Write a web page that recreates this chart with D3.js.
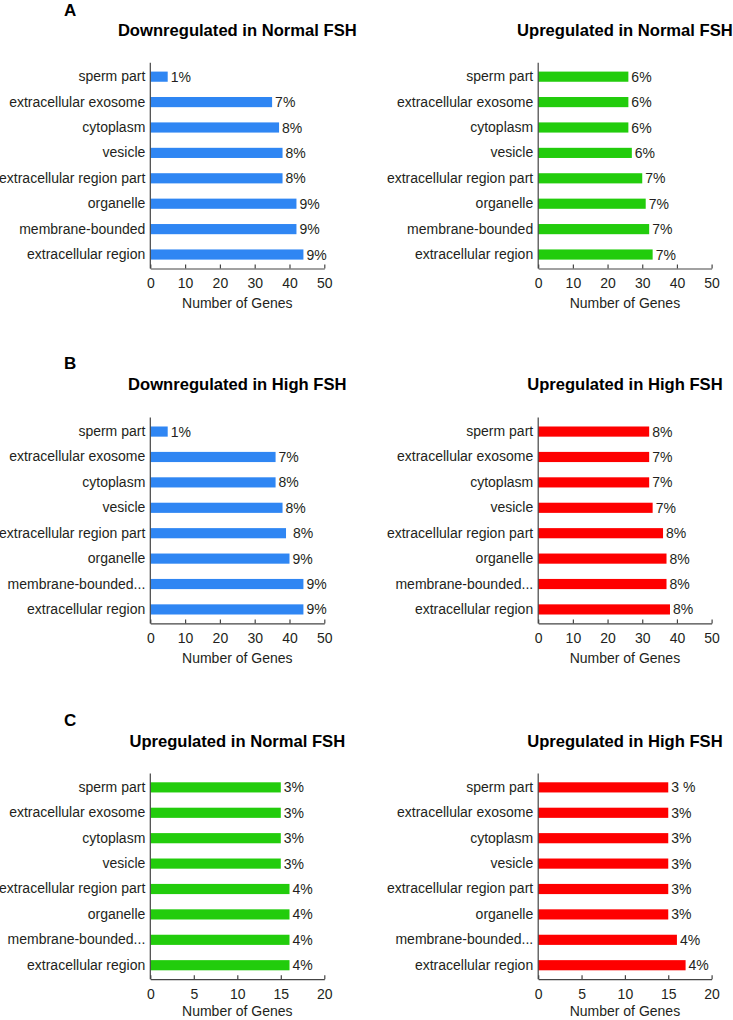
<!DOCTYPE html>
<html>
<head>
<meta charset="utf-8">
<script src="https://cdn.jsdelivr.net/npm/d3@7"></script>
<style>
  html, body { margin: 0; padding: 0; background: #fff; }
  svg { display: block; font-family: "Liberation Sans", Arial, sans-serif; }
  .val { white-space: pre; }
</style>
</head>
<body>
<svg id="chart" width="733" height="1020"></svg>
<script>
// ---------- data ----------
const categoriesA = ["sperm part", "extracellular exosome", "cytoplasm", "vesicle",
  "extracellular region part", "organelle", "membrane-bounded", "extracellular region"];
const categoriesBC = ["sperm part", "extracellular exosome", "cytoplasm", "vesicle",
  "extracellular region part", "organelle", "membrane-bounded...", "extracellular region"];

const panelLetters = ["A", "B", "C"];
const titlesLeft = ["Downregulated in Normal FSH", "Downregulated in High FSH", "Upregulated in Normal FSH"];
const titlesRight = ["Upregulated in Normal FSH", "Upregulated in High FSH", "Upregulated in High FSH"];
const axisTitle = "Number of Genes";

const ticks50 = [0, 10, 20, 30, 40, 50];
const ticks20 = [0, 5, 10, 15, 20];

const downNormalValues = [5, 35, 37, 38, 38, 42, 42, 44];
const downNormalLabels = ["1%", "7%", "8%", "8%", "8%", "9%", "9%", "9%"];
const upNormalValues = [26, 26, 26, 27, 30, 31, 32, 33];
const upNormalLabels = ["6%", "6%", "6%", "6%", "7%", "7%", "7%", "7%"];

const downHighValues = [5, 36, 36, 38, 39, 40, 44, 44];
const downHighLabels = ["1%", "7%", "8%", "8%", " 8%", "9%", "9%", "9%"];
const upHighValues = [32, 32, 32, 33, 36, 37, 37, 38];
const upHighLabels = ["8%", "7%", "7%", "7%", "8%", "8%", "8%", "8%"];

const upNormalCValues = [15, 15, 15, 15, 16, 16, 16, 16];
const upNormalCLabels = ["3%", "3%", "3%", "3%", "4%", "4%", "4%", "4%"];
const upHighCValues = [15, 15, 15, 15, 15, 15, 16, 17];
const upHighCLabels = ["3 %", "3%", "3%", "3%", "3%", "3%", "4%", "4%"];

const BLUE = "#2f86f3";
const GREEN = "#22cc0c";
const RED = "#fe0000";

// ---------- layout ----------
const svg = d3.select("#chart");
const W = 733, H = 1020;
const leftX = [150.3, 324.3];
const rightX = [538.2, 711.6];
const panelTops = [62.7, 417.6, 773.4];
const plotH = 205.8;
const letterBaselines = [15.6, 369.4, 726];
const titleBaselines = [36, 390, 746.7];
const textColor = "#231f20";
const axisColor = "#444";

function drawChart(opt) {
  const g = svg.append("g");
  const x = d3.scaleLinear().domain([0, opt.max]).range(opt.xr);
  const top = opt.top, bottom = opt.top + plotH;
  const y = d3.scaleBand().domain(opt.cats).range([top, bottom])
    .paddingInner(0.6).paddingOuter(0.35).align(0.5);

  // title
  g.append("text")
    .attr("x", (opt.xr[0] + opt.xr[1]) / 2)
    .attr("y", opt.titleY)
    .attr("text-anchor", "middle")
    .attr("font-size", 16.6)
    .attr("font-weight", "bold")
    .attr("fill", "#000")
    .text(opt.title);

  // bars
  g.selectAll("rect.bar").data(opt.values).join("rect")
    .attr("class", "bar")
    .attr("x", x(0))
    .attr("y", (d, i) => y(opt.cats[i]))
    .attr("width", d => x(d) - x(0))
    .attr("height", y.bandwidth())
    .attr("fill", opt.color);

  // value labels
  g.selectAll("text.val").data(opt.values).join("text")
    .attr("class", "val")
    .attr("x", d => x(d) + 3)
    .attr("y", (d, i) => y(opt.cats[i]) + y.bandwidth() / 2)
    .attr("dy", "0.36em")
    .attr("font-size", 14)
    .attr("fill", textColor)
    .text((d, i) => opt.labels[i]);

  // y axis (category labels)
  const ya = g.append("g")
    .attr("transform", `translate(${x(0)},0)`)
    .call(d3.axisLeft(y).tickSize(0).tickPadding(5));
  ya.select(".domain").remove();
  ya.selectAll("text").attr("font-size", 14).attr("fill", textColor).attr("font-family", null);

  g.append("line")
    .attr("x1", x(0)).attr("x2", x(0))
    .attr("y1", top).attr("y2", bottom)
    .attr("stroke", axisColor).attr("stroke-width", 1.2);

  // x axis
  const xa = g.append("g")
    .attr("transform", `translate(0,${bottom})`)
    .call(d3.axisBottom(x).tickValues(opt.ticks).tickSizeInner(-4).tickSizeOuter(0).tickPadding(10));
  xa.select(".domain").attr("stroke", axisColor).attr("stroke-width", 1.2);
  xa.selectAll(".tick line").attr("stroke", axisColor).attr("stroke-width", 1.2);
  xa.selectAll("text").attr("font-size", 14).attr("fill", textColor).attr("font-family", null);

  // axis title (kept inside the page)
  g.append("text")
    .attr("x", (opt.xr[0] + opt.xr[1]) / 2)
    .attr("y", Math.min(bottom + 39.5, H - 4.5))
    .attr("text-anchor", "middle")
    .attr("font-size", 14)
    .attr("fill", textColor)
    .text(axisTitle);
}

// panel letters
panelLetters.forEach((L, i) => {
  svg.append("text")
    .attr("x", 64).attr("y", letterBaselines[i])
    .attr("font-size", 17).attr("font-weight", "bold").attr("fill", "#000")
    .text(L);
});

const charts = [
  {xr: leftX, top: panelTops[0], titleY: titleBaselines[0], title: titlesLeft[0], cats: categoriesA,
   values: downNormalValues, labels: downNormalLabels, color: BLUE, max: 50, ticks: ticks50},
  {xr: rightX, top: panelTops[0], titleY: titleBaselines[0], title: titlesRight[0], cats: categoriesA,
   values: upNormalValues, labels: upNormalLabels, color: GREEN, max: 50, ticks: ticks50},
  {xr: leftX, top: panelTops[1], titleY: titleBaselines[1], title: titlesLeft[1], cats: categoriesBC,
   values: downHighValues, labels: downHighLabels, color: BLUE, max: 50, ticks: ticks50},
  {xr: rightX, top: panelTops[1], titleY: titleBaselines[1], title: titlesRight[1], cats: categoriesBC,
   values: upHighValues, labels: upHighLabels, color: RED, max: 50, ticks: ticks50},
  {xr: leftX, top: panelTops[2], titleY: titleBaselines[2], title: titlesLeft[2], cats: categoriesBC,
   values: upNormalCValues, labels: upNormalCLabels, color: GREEN, max: 20, ticks: ticks20},
  {xr: rightX, top: panelTops[2], titleY: titleBaselines[2], title: titlesRight[2], cats: categoriesBC,
   values: upHighCValues, labels: upHighCLabels, color: RED, max: 20, ticks: ticks20}
];
charts.forEach(drawChart);
</script>
</body>
</html>
